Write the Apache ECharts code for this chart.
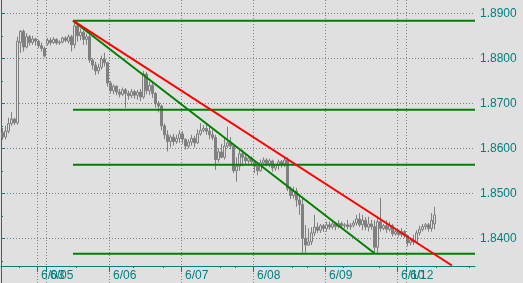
<!DOCTYPE html>
<html><head><meta charset="utf-8">
<script src="https://cdn.jsdelivr.net/npm/echarts@6/dist/echarts.min.js"></script>
<style>html,body{margin:0;padding:0;background:#e0e0e0}#c{width:523px;height:283px}</style>
</head><body><div id="c"></div><script>
// hourly slots on the time axis
const hourCount = 158;
const hours = Array.from({length: hourCount}, (_, i) => String(i));
// day boundaries (hour slot index) and their labels
const dayStarts = [12, 15, 36, 60, 84, 108, 132, 135];
const dayLabels = ['6/03', '6/05', '6/06', '6/07', '6/08', '6/09', '6/10', '6/12'];
const minorHourTicks = [6, 25, 44, 54, 73, 78, 97, 102, 114, 126, 145, 156];
// price axis
const priceTicks = [1.84, 1.85, 1.86, 1.87, 1.88, 1.89];
const priceMinorTicks = [1.835, 1.845, 1.855, 1.865, 1.875, 1.885];
const priceMin = 1.83007, priceMax = 1.89296;
// hourly candles: [open, close, low, high]
const candles = [
[1.8635,1.8625,1.8619,1.8645],[1.8625,1.8638,1.8620,1.8650],[1.8638,1.8655,1.8633,1.8668],[1.8655,1.8665,1.8650,1.8681],
[1.8665,1.8657,1.8652,1.8668],[1.8657,1.8838,1.8652,1.8848],[1.8835,1.8860,1.8812,1.8863],[1.8860,1.8825,1.8815,1.8864],
[1.8825,1.8848,1.8822,1.8856],[1.8848,1.8835,1.8828,1.8852],[1.8835,1.8843,1.8830,1.8850],[1.8843,1.8838,1.8828,1.8846],
[1.8838,1.8828,1.8823,1.8841],[1.8828,1.8822,1.8815,1.8835],[1.8822,1.8805,1.8802,1.8826],[1.8832,1.8840,1.8828,1.8845],
[1.8840,1.8835,1.8829,1.8846],[1.8835,1.8842,1.8832,1.8847],[1.8842,1.8834,1.8830,1.8845],[1.8834,1.8836,1.8830,1.8840],
[1.8836,1.8845,1.8833,1.8848],[1.8845,1.8840,1.8836,1.8849],[1.8838,1.8848,1.8833,1.8853],[1.8848,1.8830,1.8815,1.8852],
[1.8830,1.8872,1.8822,1.8884],[1.8872,1.8850,1.8837,1.8876],[1.8850,1.8858,1.8840,1.8866],[1.8858,1.8842,1.8830,1.8862],
[1.8842,1.8848,1.8830,1.8855],[1.8848,1.8796,1.8790,1.8852],[1.8796,1.8785,1.8775,1.8800],[1.8785,1.8772,1.8763,1.8792],
[1.8772,1.8780,1.8765,1.8788],[1.8780,1.8798,1.8775,1.8806],[1.8798,1.8790,1.8782,1.8812],[1.8790,1.8745,1.8737,1.8792],
[1.8745,1.8728,1.8722,1.8750],[1.8728,1.8738,1.8720,1.8742],[1.8738,1.8725,1.8718,1.8740],[1.8725,1.8720,1.8713,1.8732],
[1.8720,1.8730,1.8716,1.8735],[1.8730,1.8722,1.8690,1.8734],[1.8722,1.8717,1.8708,1.8728],[1.8717,1.8726,1.8712,1.8732],
[1.8726,1.8718,1.8710,1.8730],[1.8718,1.8725,1.8708,1.8730],[1.8725,1.8714,1.8705,1.8732],[1.8714,1.8765,1.8710,1.8772],
[1.8765,1.8728,1.8720,1.8770],[1.8728,1.8740,1.8718,1.8748],[1.8740,1.8722,1.8712,1.8745],[1.8722,1.8700,1.8690,1.8725],
[1.8700,1.8694,1.8680,1.8705],[1.8694,1.8650,1.8640,1.8697],[1.8650,1.8630,1.8620,1.8655],[1.8630,1.8615,1.8593,1.8640],
[1.8615,1.8625,1.8602,1.8630],[1.8625,1.8615,1.8606,1.8632],[1.8615,1.8622,1.8610,1.8630],[1.8622,1.8632,1.8612,1.8640],
[1.8632,1.8620,1.8610,1.8638],[1.8620,1.8605,1.8597,1.8622],[1.8605,1.8614,1.8600,1.8620],[1.8614,1.8622,1.8606,1.8630],
[1.8622,1.8612,1.8602,1.8628],[1.8612,1.8632,1.8610,1.8642],[1.8632,1.8640,1.8628,1.8656],[1.8640,1.8644,1.8636,1.8652],
[1.8644,1.8638,1.8630,1.8656],[1.8638,1.8630,1.8620,1.8648],[1.8630,1.8624,1.8618,1.8641],[1.8624,1.8575,1.8552,1.8630],
[1.8575,1.8592,1.8568,1.8600],[1.8592,1.8580,1.8578,1.8610],[1.8580,1.8605,1.8575,1.8625],[1.8605,1.8612,1.8600,1.8648],
[1.8612,1.8605,1.8598,1.8625],[1.8605,1.8550,1.8545,1.8610],[1.8550,1.8560,1.8526,1.8580],[1.8560,1.8588,1.8550,1.8597],
[1.8588,1.8580,1.8560,1.8597],[1.8580,1.8572,1.8565,1.8588],[1.8572,1.8578,1.8566,1.8582],[1.8578,1.8570,1.8563,1.8582],
[1.8570,1.8560,1.8545,1.8572],[1.8560,1.8550,1.8540,1.8568],[1.8550,1.8568,1.8548,1.8575],[1.8568,1.8574,1.8562,1.8580],
[1.8574,1.8566,1.8560,1.8578],[1.8566,1.8572,1.8558,1.8577],[1.8572,1.8556,1.8548,1.8575],[1.8556,1.8562,1.8550,1.8566],
[1.8562,1.8570,1.8552,1.8575],[1.8570,1.8565,1.8557,1.8574],[1.8565,1.8574,1.8558,1.8580],[1.8574,1.8510,1.8505,1.8580],
[1.8510,1.8495,1.8487,1.8515],[1.8495,1.8505,1.8488,1.8515],[1.8505,1.8485,1.8470,1.8512],[1.8485,1.8475,1.8452,1.8498],
[1.8475,1.8400,1.8368,1.8490],[1.8400,1.8385,1.8368,1.8430],[1.8385,1.8392,1.8384,1.8422],[1.8392,1.8412,1.8385,1.8425],
[1.8412,1.8425,1.8405,1.8452],[1.8425,1.8418,1.8412,1.8435],[1.8418,1.8428,1.8412,1.8432],[1.8428,1.8422,1.8414,1.8432],
[1.8422,1.8430,1.8415,1.8437],[1.8430,1.8425,1.8419,1.8437],[1.8425,1.8432,1.8420,1.8441],[1.8432,1.8426,1.8418,1.8436],
[1.8426,1.8433,1.8422,1.8440],[1.8433,1.8428,1.8420,1.8437],[1.8428,1.8430,1.8422,1.8434],[1.8430,1.8426,1.8420,1.8441],
[1.8426,1.8429,1.8419,1.8434],[1.8429,1.8434,1.8424,1.8440],[1.8434,1.8443,1.8428,1.8452],[1.8443,1.8430,1.8425,1.8456],
[1.8430,1.8440,1.8418,1.8452],[1.8440,1.8425,1.8418,1.8447],[1.8425,1.8432,1.8415,1.8448],[1.8432,1.8426,1.8419,1.8441],
[1.8426,1.8380,1.8367,1.8440],[1.8380,1.8437,1.8366,1.8446],[1.8437,1.8422,1.8415,1.8490],[1.8422,1.8428,1.8418,1.8432],
[1.8428,1.8420,1.8412,1.8440],[1.8420,1.8428,1.8415,1.8437],[1.8428,1.8410,1.8404,1.8432],[1.8410,1.8415,1.8406,1.8422],
[1.8415,1.8408,1.8404,1.8420],[1.8408,1.8415,1.8403,1.8423],[1.8415,1.8406,1.8401,1.8418],[1.8406,1.8390,1.8382,1.8408],
[1.8390,1.8396,1.8384,1.8402],[1.8396,1.8392,1.8385,1.8408],[1.8392,1.8412,1.8390,1.8418],[1.8412,1.8420,1.8406,1.8428],
[1.8420,1.8426,1.8415,1.8432],[1.8426,1.8430,1.8419,1.8434],[1.8430,1.8422,1.8415,1.8434],[1.8422,1.8440,1.8415,1.8456],
[1.8432,1.8452,1.8420,1.8470]
];
// Fibonacci retracement levels and trend lines (hour slot, price)
const fibLevels = [1.88836, 1.86858, 1.85636, 1.83658];
const fibStartHour = 24;
const greenTrend = [[24, 1.88836], [124.7, 1.83658]];
const redTrend = [[24, 1.88836], [150.3, 1.83396]];

const teal = '#008080';
const font = 'Liberation Sans';
const chart = echarts.init(document.getElementById('c'));
const fibSeries = fibLevels.map(p => ({
  type: 'line', xAxisIndex: 0, yAxisIndex: 0, symbol: 'none', silent: true,
  data: [[fibStartHour, p], [hourCount, p]],
  lineStyle: {color: '#008000', width: 2}
}));
// labels split over two axes so that adjacent (overlapping) day labels both draw
const labelSetA = dayStarts.filter((_, k) => k % 2 === 0);
const labelSetB = dayStarts.filter((_, k) => k % 2 === 1);
const dayLabelOf = v => dayLabels[dayStarts.indexOf(Math.round(v))] || '';
const labelAxis = (vals) => ({
  type: 'value', min: 0, max: hourCount, position: 'bottom', offset: -17,
  axisLine: {show: false, onZero: false}, axisTick: {show: false}, splitLine: {show: false},
  axisLabel: {customValues: vals, align: 'left', margin: 4, padding: [0, 0, 0, 4], hideOverlap: false,
    color: teal, fontFamily: font, fontSize: 12, formatter: dayLabelOf}
});
chart.setOption({
  animation: false,
  backgroundColor: '#e0e0e0',
  grid: {left: 1, right: 48, top: 0, bottom: 0},
  xAxis: [
    {type: 'value', min: 0, max: hourCount, position: 'bottom', offset: -17,
     axisLine: {onZero: false, lineStyle: {color: teal, width: 1}},
     axisTick: {customValues: dayStarts, length: 6, lineStyle: {color: teal}},
     axisLabel: {show: false},
     splitLine: {show: true, lineStyle: {color: '#808080', type: [1, 2], width: 1}}},
    {type: 'category', data: hours, show: false, boundaryGap: true},
    {type: 'value', min: 0, max: hourCount, position: 'bottom', offset: -17,
     axisLine: {show: false, onZero: false},
     axisTick: {customValues: minorHourTicks, length: 2, lineStyle: {color: teal}},
     axisLabel: {show: false}, splitLine: {show: false}},
    labelAxis(labelSetA),
    labelAxis(labelSetB)
  ],
  yAxis: [
    {type: 'value', position: 'right', min: priceMin, max: priceMax,
     axisLine: {show: true, lineStyle: {color: teal}},
     axisTick: {show: true, customValues: priceTicks, length: 4, lineStyle: {color: teal}},
     axisLabel: {customValues: priceTicks, margin: 5, color: teal, fontFamily: font, fontSize: 12,
       formatter: v => v.toFixed(4)},
     splitLine: {show: true, lineStyle: {color: '#808080', type: [1, 2], width: 1}}},
    {type: 'value', position: 'right', min: priceMin, max: priceMax,
     axisLine: {show: false},
     axisTick: {show: true, customValues: priceMinorTicks, length: 2, lineStyle: {color: teal}},
     axisLabel: {show: false}, splitLine: {show: false}}
  ],
  series: [
    {type: 'candlestick', xAxisIndex: 1, yAxisIndex: 0, data: candles, barWidth: 2,
     itemStyle: {color: '#e0e0e0', color0: '#808080', borderColor: '#808080', borderColor0: '#808080', borderWidth: 1}},
    ...fibSeries,
    {type: 'line', xAxisIndex: 0, yAxisIndex: 0, symbol: 'none', data: greenTrend, lineStyle: {color: '#008000', width: 2}},
    {type: 'line', xAxisIndex: 0, yAxisIndex: 0, symbol: 'none', data: redTrend, lineStyle: {color: '#ff0000', width: 2}}
  ]
});
</script></body></html>
